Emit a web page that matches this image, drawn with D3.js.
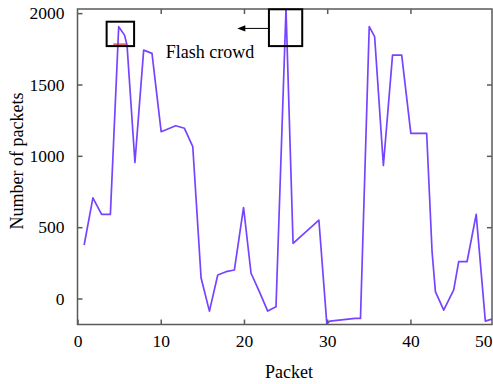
<!DOCTYPE html>
<html>
<head>
<meta charset="utf-8">
<script src="https://cdn.jsdelivr.net/npm/d3@7"></script>
<style>
  body { margin: 0; background: #fff; }
  svg { display: block; font-family: "Liberation Serif", "Times New Roman", serif; }
</style>
</head>
<body>
<svg id="canvas"></svg>
<script>
// packet index (x) and number of packets (y)
const packetX = [0.8, 1.85, 2.9, 3.95, 4.95, 5.65, 5.95, 6.9, 7.95, 8.95, 10.05, 11.8, 12.85, 13.85,
  14.85, 15.85, 16.85, 17.85, 18.85, 19.95, 20.85, 21.85, 22.85, 23.85, 25.05, 25.9, 29, 29.95,
  30.35, 33.35, 34, 35.05, 35.7, 36.75, 37.85, 38.95, 40.05, 41.95, 42.6, 43, 44, 45.2, 45.8,
  46.8, 47.9, 49, 49.8];
const packetCount = [375, 706, 590, 590, 1905, 1846, 1776, 953, 1741, 1718, 1169, 1211, 1193, 1064,
  144, -88, 165, 188, 200, 638, 177, 48, -88, -57, 2030, 387, 550, -174,
  -158, -139, -139, 1905, 1835, 932, 1706, 1706, 1158, 1158, 328, 48, -81, 60, 258,
  258, 590, -158, -144];

const xTicks = [0, 10, 20, 30, 40, 50];
const yTicks = [0, 500, 1000, 1500, 2000];

// annotation boxes (data units)
const flashBoxes = [
  { x0: 3.5, x1: 6.8, y0: 1769, y1: 1940 },
  { x0: 23.0, x1: 27.0, y0: 1769, y1: 2027 }
];

const w = 493;
const h = 384;
const padL = 77.5, padR = 492, padT = 9, padB = 324.5;
const serif = '"Liberation Serif", "Times New Roman", serif';

const x = d3.scaleLinear().domain([0, 49.8]).range([padL, padR]);
const y = d3.scaleLinear().domain([-182, 2029]).range([padB, padT]);

const svg = d3.select('#canvas').attr('width', w).attr('height', h);

svg.append('defs').append('clipPath').attr('id', 'plot')
  .append('rect').attr('x', padL).attr('y', padT).attr('width', padR - padL).attr('height', padB - padT);

// the data line
const line = d3.line().x((d, i) => x(packetX[i])).y(d => y(d));
svg.append('path')
  .datum(packetCount)
  .attr('clip-path', 'url(#plot)')
  .attr('fill', 'none')
  .attr('stroke', '#7644ff')
  .attr('stroke-width', 1.7)
  .attr('stroke-linejoin', 'round')
  .attr('d', line);

// axes, ticks pointing inward
const axisColor = '#5a5a5a';
function styleAxis(g, showText) {
  g.attr('font-family', serif).attr('font-size', 17.5);
  g.select('.domain').remove();
  g.selectAll('line').attr('stroke', axisColor).attr('stroke-width', 1.5);
  g.selectAll('text').attr('fill', '#000');
  if (!showText) g.selectAll('text').remove();
}

svg.append('g').attr('transform', 'translate(0,' + padB + ')')
  .call(d3.axisBottom(x).tickValues(xTicks).tickFormat(d3.format('d'))
    .tickSizeInner(-5).tickSizeOuter(0).tickPadding(10))
  .call(g => styleAxis(g, true))
  .call(g => g.selectAll('text').filter(d => d === 50)
    .attr('text-anchor', 'end').attr('x', w - 1 - x(50)));

svg.append('g').attr('transform', 'translate(0,' + padT + ')')
  .call(d3.axisTop(x).tickValues(xTicks.slice(1, 5)).tickSizeInner(-5).tickSizeOuter(0))
  .call(g => styleAxis(g, false));

svg.append('g').attr('transform', 'translate(' + padL + ',0)')
  .call(d3.axisLeft(y).tickValues(yTicks).tickFormat(d3.format('d'))
    .tickSizeInner(-5).tickSizeOuter(0).tickPadding(13))
  .call(g => styleAxis(g, true));

svg.append('g').attr('transform', 'translate(' + padR + ',0)')
  .call(d3.axisRight(y).tickValues(yTicks.slice(1, 4)).tickSizeInner(-5).tickSizeOuter(0))
  .call(g => styleAxis(g, false));

// frame
svg.append('rect')
  .attr('x', padL).attr('y', padT)
  .attr('width', padR - padL).attr('height', padB - padT)
  .attr('fill', 'none').attr('stroke', axisColor).attr('stroke-width', 1.5);

// flash crowd boxes
svg.selectAll('.flash')
  .data(flashBoxes)
  .enter()
  .append('rect')
  .attr('class', 'flash')
  .attr('x', d => x(d.x0))
  .attr('y', d => y(d.y1))
  .attr('width', d => x(d.x1) - x(d.x0))
  .attr('height', d => y(d.y0) - y(d.y1))
  .attr('fill', 'none')
  .attr('stroke', '#000')
  .attr('stroke-width', 2);

// small red mark at the bottom of the first box
svg.append('line')
  .attr('x1', x(4.3)).attr('x2', x(5.9))
  .attr('y1', y(1783)).attr('y2', y(1783))
  .attr('stroke', '#d23030').attr('stroke-width', 1.2);

// arrow to the left of the second box
const arrowY = y(1893);
svg.append('line')
  .attr('x1', x(23.0)).attr('x2', x(19.9))
  .attr('y1', arrowY).attr('y2', arrowY)
  .attr('stroke', '#000').attr('stroke-width', 1);
svg.append('path')
  .attr('d', 'M' + x(19.2) + ',' + arrowY + 'L' + (x(19.2) + 8) + ',' + (arrowY - 3.2) +
    'L' + (x(19.2) + 8) + ',' + (arrowY + 3.2) + 'Z')
  .attr('fill', '#000');

svg.append('text')
  .attr('x', x(10.6)).attr('y', y(1683))
  .style('font-size', '18px')
  .text('Flash crowd');

// axis titles
svg.append('text')
  .attr('x', 289).attr('y', 378)
  .attr('text-anchor', 'middle')
  .style('font-size', '18px')
  .text('Packet');

svg.append('text')
  .attr('transform', 'translate(23,161) rotate(-90)')
  .attr('text-anchor', 'middle')
  .style('font-size', '18px')
  .text('Number of packets');
</script>
</body>
</html>
